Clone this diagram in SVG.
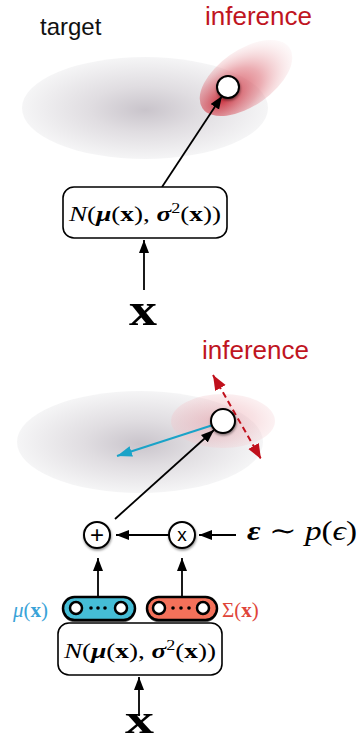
<svg xmlns="http://www.w3.org/2000/svg" width="364" height="742" viewBox="0 0 364 742">
<defs>
<radialGradient id="gray" cx="0.5" cy="0.5" r="0.5" fx="0.5" fy="0.52">
<stop offset="0" stop-color="#c9c4cb"/>
<stop offset="0.45" stop-color="#e0dde1"/>
<stop offset="1" stop-color="#f5f5f6"/>
</radialGradient>
<radialGradient id="redTop" cx="0.35" cy="0.55" r="0.8" fx="0.2" fy="0.58">
<stop offset="0" stop-color="#c8202e" stop-opacity="0.9"/>
<stop offset="0.45" stop-color="#dc6b75" stop-opacity="0.55"/>
<stop offset="1" stop-color="#ffffff" stop-opacity="0"/>
</radialGradient>
<radialGradient id="redBot" cx="0.45" cy="0.5" r="0.6" fx="0.45" fy="0.5">
<stop offset="0" stop-color="#e38d97" stop-opacity="0.5"/>
<stop offset="0.6" stop-color="#efb8be" stop-opacity="0.4"/>
<stop offset="1" stop-color="#f7dcdf" stop-opacity="0.3"/>
</radialGradient>
<marker id="ah" markerUnits="userSpaceOnUse" markerWidth="14" markerHeight="11" refX="13" refY="5" orient="auto">
<path d="M0,0 L13,5 L0,10 z" fill="#000"/>
</marker>
<marker id="ahBlue" markerUnits="userSpaceOnUse" markerWidth="16" markerHeight="12" refX="15" refY="5.5" orient="auto">
<path d="M0,0 L15,5.5 L0,11 z" fill="#1aa3c8"/>
</marker>
<marker id="ahRed" markerUnits="userSpaceOnUse" markerWidth="16" markerHeight="13" refX="15" refY="6" orient="auto-start-reverse">
<path d="M0,0 L15,6 L0,12 z" fill="#c0101c"/>
</marker>
<filter id="sh" x="-30%" y="-30%" width="160%" height="160%">
<feDropShadow dx="0.5" dy="1.5" stdDeviation="1" flood-color="#000" flood-opacity="0.45"/>
</filter>
<style>
.lbl{font-family:"Liberation Sans","Arial",sans-serif;}
.red{fill:#c0151f;}
.math{font-family:"Liberation Serif","DejaVu Serif",serif;}
.box{fill:#fff;stroke:#000;stroke-width:1.6;}
.node{fill:#fff;stroke:#000;stroke-width:2;}
.conn{stroke:#000;stroke-width:1.8;fill:none;}
.pillc{fill:#fff;stroke:#000;stroke-width:2.5;}
</style>
</defs>

<!-- top section backgrounds -->
<g id="target-dist">
<ellipse cx="145" cy="108" rx="123" ry="51" fill="url(#gray)"/>
<text class="lbl" x="40" y="35" font-size="24" fill="#111">target</text>
</g>
<g id="inference-dist-top">
<ellipse cx="246" cy="78" rx="53" ry="28" transform="rotate(-35 246 78)" fill="url(#redTop)"/>
<text class="lbl red" x="205" y="25" font-size="26">inference</text>
</g>

<!-- bottom section backgrounds -->
<g id="target-dist-bottom">
<ellipse cx="140" cy="442" rx="123" ry="51" fill="url(#gray)"/>
</g>
<g id="inference-dist-bottom">
<ellipse cx="223" cy="421" rx="52" ry="27" fill="url(#redBot)"/>
<text class="lbl red" x="202" y="359" font-size="26">inference</text>
</g>

<!-- connectors -->
<g id="connectors">
<line class="conn" x1="162" y1="187" x2="222" y2="96" marker-end="url(#ah)"/>
<line class="conn" x1="144" y1="290" x2="144" y2="240" marker-end="url(#ah)"/>
<line x1="213" y1="375" x2="261" y2="459" stroke="#c0101c" stroke-width="2" stroke-dasharray="6,4" marker-start="url(#ahRed)" marker-end="url(#ahRed)"/>
<line x1="213" y1="425" x2="117" y2="456" stroke="#1aa3c8" stroke-width="2" marker-end="url(#ahBlue)"/>
<line class="conn" x1="115" y1="519" x2="214" y2="430" marker-end="url(#ah)"/>
<line class="conn" x1="169" y1="535" x2="116" y2="535" marker-end="url(#ah)"/>
<line class="conn" x1="236" y1="535" x2="199" y2="535" marker-end="url(#ah)"/>
<line class="conn" x1="98" y1="597" x2="98" y2="558" marker-end="url(#ah)"/>
<line class="conn" x1="182" y1="597" x2="182" y2="558" marker-end="url(#ah)"/>
<line class="conn" x1="139" y1="716" x2="139" y2="677" marker-end="url(#ah)"/>
</g>

<!-- top nodes -->
<g id="sample-top">
<circle class="node" cx="228" cy="87" r="11" filter="url(#sh)"/>
</g>
<g id="gauss-top">
<rect class="box" x="63" y="187" width="164" height="51" rx="11"/>
<text class="math" x="145" y="221" font-size="21" text-anchor="middle" textLength="152" lengthAdjust="spacingAndGlyphs"><tspan font-style="italic">N</tspan>(<tspan font-weight="bold" font-style="italic">μ</tspan>(<tspan font-weight="bold">x</tspan>), <tspan font-weight="bold" font-style="italic">σ</tspan><tspan font-size="14" dy="-8">2</tspan><tspan dy="8">(</tspan><tspan font-weight="bold">x</tspan>))</text>
</g>
<g id="x-top">
<text class="math" x="129" y="325" font-size="46" font-weight="bold" textLength="28" lengthAdjust="spacingAndGlyphs">x</text>
</g>

<!-- bottom nodes -->
<g id="sample-bottom">
<circle class="node" cx="223" cy="421" r="12" filter="url(#sh)"/>
</g>
<g id="plus">
<circle class="node" cx="97" cy="535" r="13" filter="url(#sh)"/>
<text class="lbl" x="97" y="543" font-size="24" text-anchor="middle">+</text>
</g>
<g id="times">
<circle class="node" cx="182" cy="535" r="13" filter="url(#sh)"/>
<text class="lbl" x="182" y="541" font-size="19" text-anchor="middle">x</text>
</g>
<g id="eps">
<text class="math" x="247" y="540" font-size="27" textLength="110" lengthAdjust="spacingAndGlyphs"><tspan font-weight="bold" font-style="italic">ε</tspan> ∼ <tspan font-style="italic">p</tspan>(<tspan font-style="italic">ϵ</tspan>)</text>
</g>
<g id="mu-layer">
<rect x="63" y="599" width="72" height="23" rx="11.5" fill="#000" opacity="0.6"/>
<rect x="63" y="597" width="72" height="23" rx="11.5" fill="#45bdd6" stroke="#000" stroke-width="2.5"/>
<circle class="pillc" cx="76" cy="608" r="6"/>
<circle class="pillc" cx="121" cy="608" r="6"/>
<circle cx="91" cy="608" r="1.8"/><circle cx="98" cy="608" r="1.8"/><circle cx="105" cy="608" r="1.8"/>
<text class="math" x="13" y="617" font-size="21" fill="#3aa3d8"><tspan font-style="italic">μ</tspan>(<tspan font-weight="bold">x</tspan>)</text>
</g>
<g id="sigma-layer">
<rect x="147" y="599" width="70" height="23" rx="11.5" fill="#000" opacity="0.6"/>
<rect x="147" y="597" width="70" height="23" rx="11.5" fill="#f4715a" stroke="#000" stroke-width="2.5"/>
<circle class="pillc" cx="159" cy="608" r="6"/>
<circle class="pillc" cx="203" cy="608" r="6"/>
<circle cx="173" cy="608" r="1.8"/><circle cx="181" cy="608" r="1.8"/><circle cx="189" cy="608" r="1.8"/>
<text class="math" x="222" y="617" font-size="21" fill="#e0453a">Σ(<tspan font-weight="bold">x</tspan>)</text>
</g>
<g id="gauss-bottom">
<rect class="box" x="58" y="623" width="164" height="52" rx="11"/>
<text class="math" x="140" y="658" font-size="21" text-anchor="middle" textLength="152" lengthAdjust="spacingAndGlyphs"><tspan font-style="italic">N</tspan>(<tspan font-weight="bold" font-style="italic">μ</tspan>(<tspan font-weight="bold">x</tspan>), <tspan font-weight="bold" font-style="italic">σ</tspan><tspan font-size="14" dy="-8">2</tspan><tspan dy="8">(</tspan><tspan font-weight="bold">x</tspan>))</text>
</g>
<g id="x-bottom">
<text class="math" x="125" y="733" font-size="40" font-weight="bold" textLength="29" lengthAdjust="spacingAndGlyphs">x</text>
</g>
</svg>
